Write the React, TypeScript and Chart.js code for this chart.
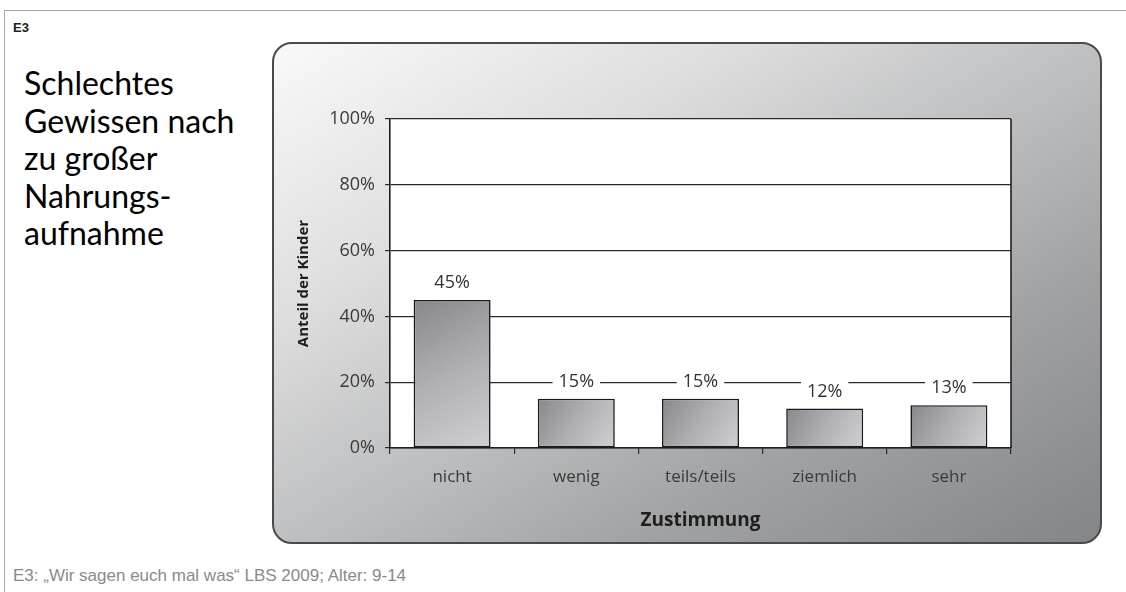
import React, { useEffect, useRef } from "react";
import { Chart, registerables } from "chart.js";

Chart.register(...registerables);

// Survey answers: "Schlechtes Gewissen nach zu großer Nahrungsaufnahme"
const categories = ["nicht", "wenig", "teils/teils", "ziemlich", "sehr"];
const shares = [45, 15, 15, 12, 13];
const yMax = 100;
const yStep = 20;

const titleLines = ["Schlechtes", "Gewissen nach", "zu großer", "Nahrungs-", "aufnahme"];
const sourceNote = "E3: „Wir sagen euch mal was“ LBS 2009; Alter: 9-14";

const AXIS_FONT = '"Open Sans", "DejaVu Sans", sans-serif';
const BAR_SHARE = 0.62;

// white plot background and the closing right edge of the plot frame
const plotFrame = {
  id: "plotFrame",
  beforeDraw(chart: any) {
    const { ctx, chartArea: a } = chart;
    ctx.save();
    ctx.fillStyle = "#ffffff";
    ctx.fillRect(a.left, a.top, a.right - a.left, a.bottom - a.top);
    ctx.restore();
  },
  beforeDatasetsDraw(chart: any) {
    const { ctx, chartArea: a } = chart;
    ctx.save();
    ctx.strokeStyle = "#1f1f1f";
    ctx.lineWidth = 1.6;
    ctx.beginPath();
    ctx.moveTo(a.right, a.top);
    ctx.lineTo(a.right, a.bottom);
    ctx.stroke();
    ctx.restore();
  },
};

// percentage labels above the bars, on a white patch that breaks the grid lines
const valueLabels = {
  id: "valueLabels",
  afterDatasetsDraw(chart: any) {
    const { ctx } = chart;
    const meta = chart.getDatasetMeta(0);
    ctx.save();
    ctx.font = `18px ${AXIS_FONT}`;
    ctx.textAlign = "center";
    ctx.textBaseline = "middle";
    meta.data.forEach((bar: any, i: number) => {
      const text = `${shares[i]}%`;
      const { x, y } = bar.getProps(["x", "y"], true);
      const cy = y - 18;
      const w = ctx.measureText(text).width + 12;
      ctx.fillStyle = "#ffffff";
      ctx.fillRect(x - w / 2, cy - 10, w, 20);
      ctx.fillStyle = "#333333";
      ctx.fillText(text, x, cy + 1);
    });
    ctx.restore();
  },
};

function barFill(c: any) {
  const chart = c.chart;
  if (!chart.chartArea || c.type !== "data") return "#a8a8ac";
  const xs = chart.scales.x;
  const ys = chart.scales.y;
  const cx = xs.getPixelForValue(c.dataIndex);
  const half = ((xs.right - xs.left) / categories.length) * BAR_SHARE / 2;
  const top = ys.getPixelForValue(c.raw);
  const bottom = ys.getPixelForValue(0);
  const g = chart.ctx.createLinearGradient(cx - half, top, cx + half, bottom);
  g.addColorStop(0, "#88888c");
  g.addColorStop(0.5, "#b0b0b4");
  g.addColorStop(1, "#d0d0d4");
  return g;
}

function SurveyChart() {
  const canvasRef = useRef<HTMLCanvasElement | null>(null);

  useEffect(() => {
    const canvas = canvasRef.current;
    if (!canvas) return;
    const chart = new Chart(canvas, {
      type: "bar",
      data: {
        labels: categories,
        datasets: [
          {
            data: shares,
            backgroundColor: barFill,
            borderColor: "#1a1a1a",
            borderWidth: 1.6,
            borderSkipped: false,
            categoryPercentage: BAR_SHARE,
            barPercentage: 1,
          },
        ],
      },
      options: {
        responsive: false,
        maintainAspectRatio: false,
        devicePixelRatio: 1,
        animation: false,
        layout: { padding: { left: 0, top: 77, right: 91, bottom: 0 } },
        plugins: {
          legend: { display: false },
          tooltip: { enabled: false },
        },
        scales: {
          x: {
            offset: true,
            grid: {
              offset: true,
              drawOnChartArea: false,
              drawTicks: true,
              tickLength: 6,
              color: "#2b2b2b",
              lineWidth: 1.2,
            },
            border: { display: true, color: "#1f1f1f", width: 1.6 },
            ticks: {
              color: "#3a3a3a",
              padding: 13,
              font: { family: AXIS_FONT, size: 17 },
            },
            title: {
              display: true,
              text: "Zustimmung",
              color: "#1e1e1e",
              padding: { top: 0, bottom: 12 },
              font: { family: AXIS_FONT, size: 19, weight: "bold" },
            },
            afterFit: (s: any) => {
              s.height = 96;
            },
          },
          y: {
            min: 0,
            max: yMax,
            grid: {
              drawTicks: true,
              tickLength: 5,
              color: "#2b2b2b",
              lineWidth: 1.2,
            },
            border: { display: true, color: "#1f1f1f", width: 1.6 },
            ticks: {
              stepSize: yStep,
              color: "#3a3a3a",
              padding: 10,
              font: { family: AXIS_FONT, size: 18 },
              callback: (v: any) => `${v}%`,
            },
            title: {
              display: true,
              text: "Anteil der Kinder",
              color: "#1e1e1e",
              padding: { top: 23, bottom: 0 },
              font: { family: AXIS_FONT, size: 15, weight: "bold" },
            },
            afterFit: (s: any) => {
              s.width = 118;
            },
          },
        },
      },
      plugins: [plotFrame, valueLabels],
    });
    return () => chart.destroy();
  }, []);

  return (
    <canvas
      ref={canvasRef}
      width={830}
      height={502}
      style={{ position: "absolute", left: 272, top: 42, width: 830, height: 502 }}
    />
  );
}

export default function App() {
  return (
    <div
      style={{
        position: "absolute",
        left: 0,
        top: 0,
        width: 1126,
        height: 592,
        overflow: "hidden",
        background: "#ffffff",
      }}
    >
      {/* page frame */}
      <div
        style={{
          position: "absolute",
          left: 4,
          top: 10,
          width: 1140,
          height: 600,
          borderTop: "1px solid #a9a9a9",
          borderLeft: "1px solid #a9a9a9",
        }}
      />
      <div
        style={{
          position: "absolute",
          left: 13,
          top: 20,
          font: 'bold 13px "Liberation Sans", Arial, sans-serif',
          lineHeight: "15px",
          color: "#222222",
        }}
      >
        E3
      </div>
      <div
        style={{
          position: "absolute",
          left: 24,
          top: 64,
          font: '32px Lato, "Noto Sans", sans-serif',
          lineHeight: "37.5px",
          color: "#000000",
          whiteSpace: "nowrap",
        }}
      >
        {titleLines.map((line) => (
          <div key={line}>{line}</div>
        ))}
      </div>
      {/* chart panel */}
      <div
        style={{
          position: "absolute",
          left: 272,
          top: 42,
          width: 830,
          height: 502,
          boxSizing: "border-box",
          border: "2px solid #4a4a4a",
          borderRadius: 20,
          background:
            "linear-gradient(to bottom right, #f9f9f9 0%, #dededf 28%, #bfc0c1 50%, #a0a2a4 72%, #838689 100%)",
        }}
      />
      <SurveyChart />
      <div
        style={{
          position: "absolute",
          left: 13,
          top: 566,
          font: '17px "Liberation Sans", Arial, sans-serif',
          lineHeight: "20px",
          color: "#8a8a8a",
          whiteSpace: "nowrap",
        }}
      >
        {sourceNote}
      </div>
    </div>
  );
}
